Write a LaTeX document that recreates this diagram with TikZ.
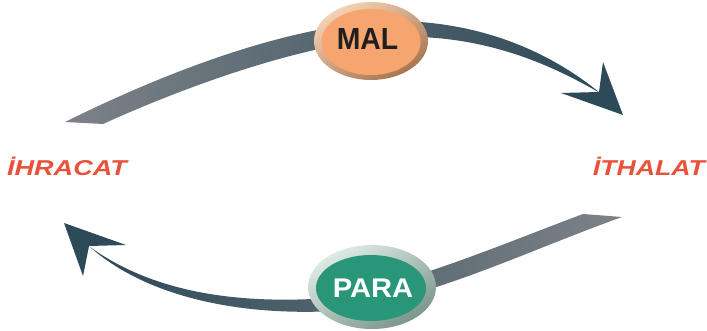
\documentclass[tikz,border=0pt]{standalone}
\usepackage{fontspec}
\usepackage{graphicx}
\setmainfont{Liberation Sans}
\usetikzlibrary{shapes.geometric}
\definecolor{bandgray}{HTML}{7D8288}
\definecolor{banddark}{HTML}{2C4A57}
\definecolor{labelred}{HTML}{E8513A}
\definecolor{malrimA}{HTML}{F6D2B4}
\definecolor{malrimB}{HTML}{A87450}
\definecolor{malfill}{HTML}{F7A56E}
\definecolor{pararimA}{HTML}{E0ECE6}
\definecolor{pararimB}{HTML}{7A958B}
\definecolor{parafill}{HTML}{2A9679}
\tikzset{
  ring/.style={ellipse, inner sep=0pt, shading=axis},
  core/.style={ellipse, inner sep=0pt},
  tradelabel/.style={anchor=base, text=labelred, inner sep=0pt},
  headfill/.style={fill=banddark},
}
\begin{document}
\begin{tikzpicture}[x=1pt,y=-1pt]
\useasboundingbox (0,0) rectangle (707,331);
% top band (MAL)
\shade[left color=bandgray, right color=banddark]
  (65,122) .. controls (200,55) and (330,15) .. (420,22)
  .. controls (500,28) and (560,60) .. (600,93)
  .. controls (560,70) and (500,40) .. (420,37)
  .. controls (330,35) and (200,80) .. (103,124) -- cycle;
\coordinate (toptip) at (623,115);
\fill[headfill] (561,93) -- (toptip) -- (603,62) -- (599,92) -- cycle;
% bottom band (PARA)
\shade[left color=banddark, right color=bandgray]
  (90,247) .. controls (150,300) and (250,318) .. (350,310)
  .. controls (450,290) and (530,250) .. (622,217)
  -- (583,214) .. controls (500,245) and (420,280) .. (330,298)
  .. controls (230,305) and (150,290) .. (90,247) -- cycle;
\coordinate (bottip) at (64,223);
\fill[headfill] (bottip) -- (126,245) -- (89,246) -- (83,276) -- cycle;
% MAL ellipse
\node[ring, top color=malrimA, bottom color=malrimB, shading angle=30,
      minimum width=114, minimum height=78] (malring) at (371,41) {};
\node[core, fill=malfill, minimum width=99, minimum height=66] (malcore) at (371,42) {};
\node[inner sep=0pt, text=black!88] (mal) at (367.5,39)
  {\scalebox{0.93}[1]{\fontsize{30.5}{30}\selectfont\bfseries MAL}};
% PARA ellipse
\node[ring, top color=pararimA, bottom color=pararimB, shading angle=30,
      minimum width=128, minimum height=84] (pararing) at (372,287) {};
\node[core, fill=parafill, minimum width=110, minimum height=66] (paracore) at (371,288) {};
\node[inner sep=0pt, text=white] (para) at (373,288)
  {\scalebox{1.08}[1]{\fontsize{27}{27}\selectfont\bfseries PARA}};
% labels
\node[tradelabel] (ihracat) at (67,176)
  {\scalebox{1.26}[1]{\fontsize{21.5}{21.5}\selectfont\bfseries\itshape İHRACAT}};
\node[tradelabel] (ithalat) at (649,176)
  {\scalebox{1.24}[1]{\fontsize{21.5}{21.5}\selectfont\bfseries\itshape İTHALAT}};
\end{tikzpicture}
\end{document}
